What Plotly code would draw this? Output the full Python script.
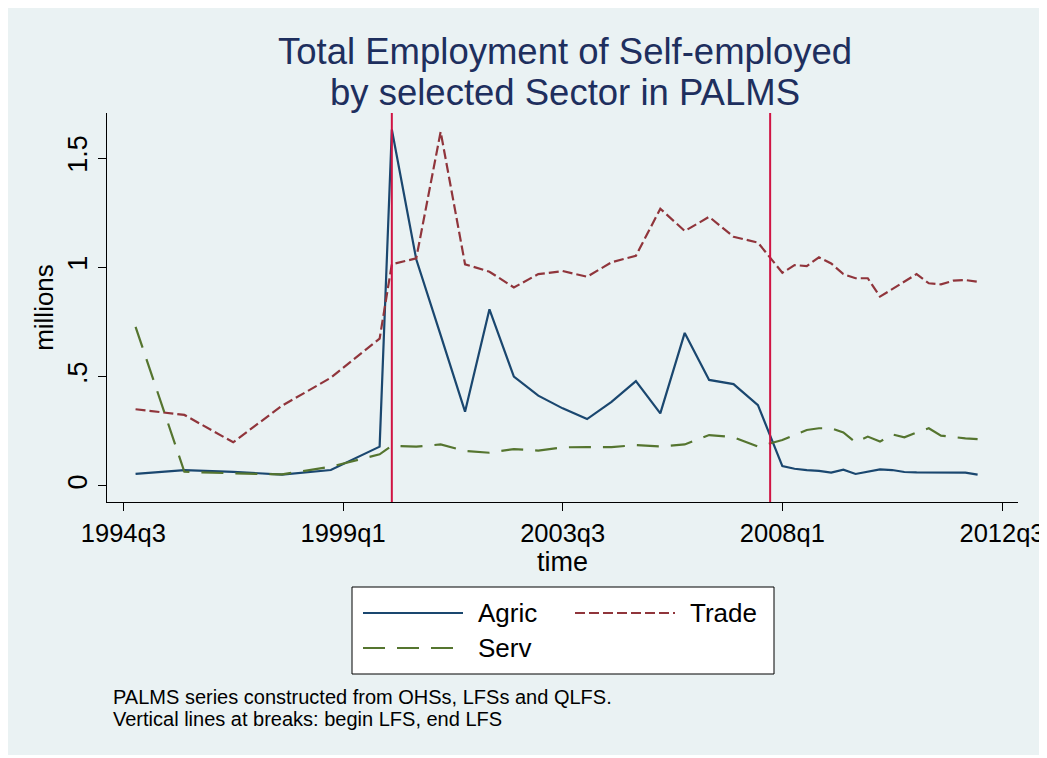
import plotly.graph_objects as go

def tq(s):
    y, q = s.lower().split("q")
    return (int(y) - 1960) * 4 + int(q) - 1

# ---- data ----
ohs_periods = ["1994q4", "1995q4", "1996q4", "1997q4", "1998q4", "1999q4"]
lfs_periods = ["2000q1", "2000q3", "2001q1", "2001q3", "2002q1", "2002q3", "2003q1", "2003q3",
               "2004q1", "2004q3", "2005q1", "2005q3", "2006q1", "2006q3", "2007q1", "2007q3"]
qlfs_periods = ["2008q1", "2008q2", "2008q3", "2008q4", "2009q1", "2009q2", "2009q3", "2009q4",
                "2010q1", "2010q2", "2010q3", "2010q4", "2011q1", "2011q2", "2011q3", "2011q4",
                "2012q1"]
periods = ohs_periods + lfs_periods + qlfs_periods

agric = [0.055, 0.073, 0.065, 0.052, 0.073, 0.18,
         1.63, 1.037, 0.69, 0.34, 0.808, 0.50, 0.413, 0.355, 0.306, 0.385, 0.48, 0.332, 0.70, 0.485, 0.466, 0.37,
         0.091, 0.079, 0.073, 0.069, 0.061, 0.075, 0.055, 0.067, 0.076, 0.073, 0.064, 0.062, 0.062, 0.061, 0.059, 0.061, 0.052]
trade = [0.351, 0.325, 0.20, 0.367, 0.495, 0.674,
         1.014, 1.041, 1.62, 1.014, 0.98, 0.908, 0.969, 0.983, 0.957, 1.023, 1.053, 1.268, 1.166, 1.231, 1.14, 1.113,
         0.975, 1.01, 1.006, 1.046, 1.018, 0.969, 0.95, 0.95, 0.866, 0.90, 0.934, 0.969, 0.927, 0.922, 0.939, 0.942, 0.934]
serv = [0.728, 0.065, 0.058, 0.053, 0.088, 0.145,
        0.184, 0.18, 0.19, 0.16, 0.152, 0.169, 0.162, 0.177, 0.178, 0.178, 0.187, 0.181, 0.19, 0.233, 0.223, 0.18,
        0.21, 0.233, 0.256, 0.264, 0.264, 0.245, 0.20, 0.226, 0.203, 0.236, 0.223, 0.245, 0.264, 0.23, 0.223, 0.218, 0.214]

series_names = ["Agric", "Trade", "Serv"]
series_values = [agric, trade, serv]
break_periods = ["2000q1", "2007q4"]
x_tick_labels = ["1994q3", "1999q1", "2003q3", "2008q1", "2012q3"]
y_tick_values = [0, 0.5, 1, 1.5]
y_tick_labels = ["0", ".5", "1", "1.5"]
title_lines = ["Total Employment of Self-employed", "by selected Sector in PALMS"]
note_lines = ["PALMS series constructed from OHSs, LFSs and QLFS.",
              "Vertical lines at breaks: begin LFS, end LFS"]

# ---- styling ----
FONT = "Liberation Sans, Arial, sans-serif"
styles = {
    "Agric": dict(color="#1A476F", dash="solid"),
    "Trade": dict(color="#90353B", dash="10px,4px"),
    "Serv": dict(color="#55752F", dash="22px,12px"),
}
BG = "#EAF2F3"
OFF = 8  # page body margin
W, H = 1047 - OFF, 758 - OFF
PL, PR, PT, PB = 107, 1018, 113, 502   # plot area in screen pixels
ML, MR, MT, MB = PL - OFF, 1047 - PR, PT - OFF, 758 - PB
PW = W - ML - MR
PH = H - MT - MB

def px_x(px):
    return (px - PL) / PW

def px_y(py):
    return (PB - py) / PH

x = [tq(p) for p in periods]

fig = go.Figure()
for name, vals in zip(series_names, series_values):
    st = styles[name]
    fig.add_trace(go.Scatter(x=x, y=vals, mode="lines", name=name, showlegend=False,
                             line=dict(color=st["color"], width=2.2, dash=st["dash"])))

shapes = []
shapes.append(dict(type="rect", xref="paper", yref="paper", layer="below",
                   x0=px_x(OFF), x1=px_x(1044), y0=px_y(755), y1=px_y(OFF),
                   fillcolor=BG, line=dict(width=0)))
for b in break_periods:
    shapes.append(dict(type="line", xref="x", yref="paper", x0=tq(b), x1=tq(b), y0=0, y1=1,
                       line=dict(color="#D01443", width=2)))

# legend box (Stata style)
shapes.append(dict(type="rect", xref="paper", yref="paper",
                   x0=px_x(352), x1=px_x(774), y0=px_y(674), y1=px_y(587),
                   fillcolor="white", line=dict(color="black", width=1)))
legend_pos = {"Agric": (363, 613), "Trade": (575, 613), "Serv": (363, 648)}
annotations = []
for name in series_names:
    lx, ly = legend_pos[name]
    st = styles[name]
    shapes.append(dict(type="line", xref="paper", yref="paper",
                       x0=px_x(lx), x1=px_x(lx + 100), y0=px_y(ly), y1=px_y(ly),
                       line=dict(color=st["color"], width=2.2, dash=st["dash"])))
    annotations.append(dict(xref="paper", yref="paper", x=px_x(lx + 113), y=px_y(ly),
                            xanchor="left", yanchor="middle", text=name, showarrow=False,
                            font=dict(family=FONT, size=26, color="black")))

for i, line in enumerate(title_lines):
    annotations.append(dict(xref="paper", yref="paper", x=px_x(565), y=px_y(52 + 40 * i),
                            xanchor="center", yanchor="middle", text=line, showarrow=False,
                            font=dict(family=FONT, size=36.5, color="#1E2F5E")))

for i, line in enumerate(note_lines):
    annotations.append(dict(xref="paper", yref="paper", x=px_x(111), y=px_y(697 + 22 * i),
                            xanchor="left", yanchor="middle", text=line, showarrow=False,
                            font=dict(family=FONT, size=20, color="black")))

fig.update_layout(
    width=W, height=H,
    margin=dict(l=ML, r=MR, t=MT, b=MB, pad=0, autoexpand=False),
    paper_bgcolor="white", plot_bgcolor="white",
    font=dict(family=FONT, size=26, color="black"),
    shapes=shapes, annotations=annotations, showlegend=False,
)
fig.update_xaxes(range=[136.66, 211.31], tickvals=[tq(t) for t in x_tick_labels], ticktext=x_tick_labels,
                 showline=True, linecolor="black", linewidth=1, ticks="outside", ticklen=8,
                 tickcolor="black", showgrid=False, zeroline=False, automargin=False,
                 tickfont=dict(family=FONT, size=25.5, color="black"),
                 title=dict(text="time", font=dict(family=FONT, size=27, color="black"), standoff=0))
fig.update_yaxes(range=[-0.0732, 1.7058], tickvals=y_tick_values, ticktext=y_tick_labels,
                 showline=True, linecolor="black", linewidth=1, ticks="outside", ticklen=8,
                 tickcolor="black", showgrid=True, gridcolor=BG, gridwidth=2, zeroline=False,
                 automargin=False, tickangle=-90, tickfont=dict(family=FONT, size=27, color="black"),
                 title=dict(text="millions", font=dict(family=FONT, size=26, color="black"), standoff=2))

fig.write_html("out.html")
